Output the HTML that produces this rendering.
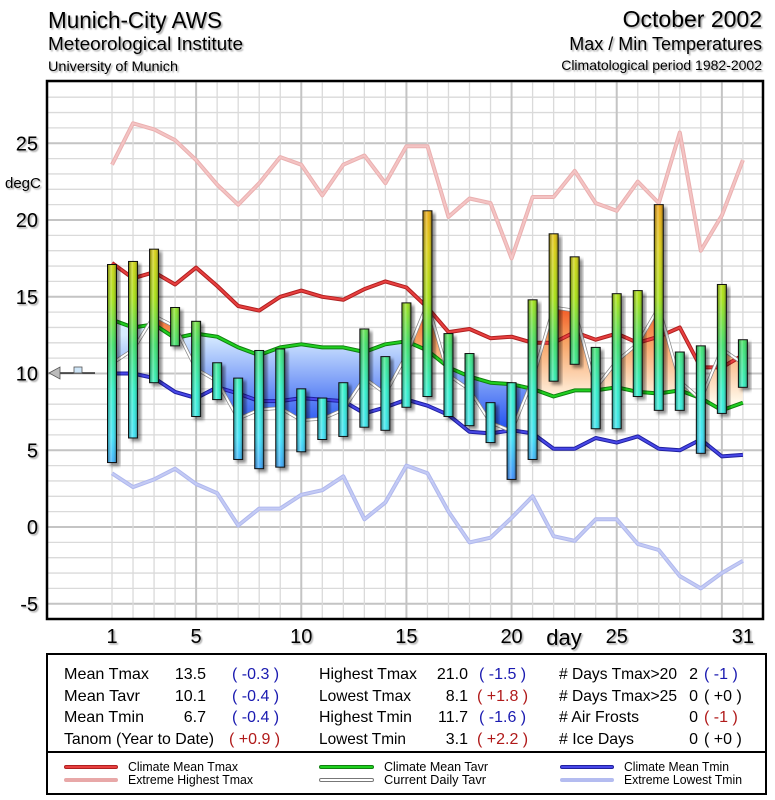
<!DOCTYPE html>
<html><head><meta charset="utf-8"><style>
html,body{margin:0;padding:0;background:#fff;}
svg{display:block;font-family:"Liberation Sans Narrow","Liberation Sans",sans-serif;}
</style></head><body>
<svg id="chart" width="775" height="800" viewBox="0 0 775 800" xmlns="http://www.w3.org/2000/svg">
<defs>
<filter id="sh" x="-50%" y="-10%" width="200%" height="130%"><feDropShadow dx="3" dy="3" stdDeviation="1.5" flood-color="#000" flood-opacity="0.45"/></filter>
<filter id="tsh" x="-10%" y="-10%" width="130%" height="140%"><feDropShadow dx="1.5" dy="1.5" stdDeviation="0.8" flood-color="#000" flood-opacity="0.35"/></filter>
<linearGradient id="barV" gradientUnits="userSpaceOnUse" x1="0" y1="200" x2="0" y2="490">
<stop offset="0" stop-color="#f09a00"/><stop offset="0.17" stop-color="#d8cc00"/><stop offset="0.34" stop-color="#a0e000"/><stop offset="0.5" stop-color="#30e060"/><stop offset="0.66" stop-color="#20f0c8"/><stop offset="0.82" stop-color="#30e0f8"/><stop offset="1" stop-color="#3070ff"/>
</linearGradient>
<linearGradient id="barH" x1="0" y1="0" x2="1" y2="0">
<stop offset="0" stop-color="#000" stop-opacity="0.35"/><stop offset="0.4" stop-color="#fff" stop-opacity="0.35"/><stop offset="0.6" stop-color="#fff" stop-opacity="0.1"/><stop offset="1" stop-color="#000" stop-opacity="0.45"/>
</linearGradient>
<linearGradient id="warmG" gradientUnits="userSpaceOnUse" x1="0" y1="300" x2="0" y2="400"><stop offset="0" stop-color="#f04a18"/><stop offset="0.4" stop-color="#f8a060"/><stop offset="1" stop-color="#fff6e6"/></linearGradient>
<linearGradient id="coldG" gradientUnits="userSpaceOnUse" x1="0" y1="335" x2="0" y2="430"><stop offset="0" stop-color="#d8ecff"/><stop offset="1" stop-color="#2050f0"/></linearGradient>
<clipPath id="plotClip"><rect x="48" y="82" width="715" height="536"/></clipPath>
<clipPath id="aboveGreen"><polygon id="cpAbove"/></clipPath>
<clipPath id="belowGreen"><polygon id="cpBelow"/></clipPath>
</defs>

<g filter="url(#tsh)">
<text x="48" y="28" font-size="23" textLength="174" lengthAdjust="spacingAndGlyphs">Munich-City AWS</text>
<text x="48" y="50" font-size="18" textLength="195" lengthAdjust="spacingAndGlyphs">Meteorological Institute</text>
<text x="48" y="71" font-size="14" textLength="130" lengthAdjust="spacingAndGlyphs">University of Munich</text>
<text x="762" y="27" font-size="23" text-anchor="end">October 2002</text>
<text x="762" y="50" font-size="18" text-anchor="end">Max / Min Temperatures</text>
<text x="762" y="70" font-size="14" text-anchor="end">Climatological period 1982-2002</text>
</g>

<rect x="48" y="82" width="715" height="536" fill="#fff"/>
<g id="grid"></g>
<g id="fills" clip-path="url(#plotClip)"></g>
<g id="lines" clip-path="url(#plotClip)"></g>
<g id="bars"></g>
<rect x="47" y="81" width="716" height="538" fill="none" stroke="#000" stroke-width="2.5"/>
<g id="axes" filter="url(#tsh)"></g>

<g>
<line x1="58" y1="373" x2="95" y2="373" stroke="#000" stroke-width="1.2"/>
<polygon points="49,373 60,367 60,379" fill="#bbb" stroke="#555" stroke-width="0.8"/>
<rect x="74" y="367" width="8" height="6" fill="#cfe6f8" stroke="#555" stroke-width="0.8"/>
</g>

<g font-size="16">
<rect x="47" y="654" width="719" height="140" fill="#fff" stroke="#000" stroke-width="2"/>
<line x1="47" y1="752" x2="766" y2="752" stroke="#000" stroke-width="2"/>
<g>
<text x="64" y="679" textLength="85" lengthAdjust="spacingAndGlyphs">Mean Tmax</text><text x="206" y="679" text-anchor="end">13.5</text><text x="232" y="679" fill="#1a1ab0">( -0.3 )</text>
<text x="64" y="701" textLength="76" lengthAdjust="spacingAndGlyphs">Mean Tavr</text><text x="206" y="701" text-anchor="end">10.1</text><text x="232" y="701" fill="#1a1ab0">( -0.4 )</text>
<text x="64" y="722" textLength="80" lengthAdjust="spacingAndGlyphs">Mean Tmin</text><text x="206" y="722" text-anchor="end">6.7</text><text x="232" y="722" fill="#1a1ab0">( -0.4 )</text>
<text x="64" y="744" textLength="150" lengthAdjust="spacingAndGlyphs">Tanom (Year to Date)</text><text x="229" y="744" fill="#b01a1a">( +0.9 )</text>
</g>
<g>
<text x="319" y="679" textLength="98" lengthAdjust="spacingAndGlyphs">Highest Tmax</text><text x="468" y="679" text-anchor="end">21.0</text><text x="479" y="679" fill="#1a1ab0">( -1.5 )</text>
<text x="319" y="701" textLength="92" lengthAdjust="spacingAndGlyphs">Lowest Tmax</text><text x="468" y="701" text-anchor="end">8.1</text><text x="477" y="701" fill="#b01a1a">( +1.8 )</text>
<text x="319" y="722" textLength="93" lengthAdjust="spacingAndGlyphs">Highest Tmin</text><text x="468" y="722" text-anchor="end">11.7</text><text x="479" y="722" fill="#1a1ab0">( -1.6 )</text>
<text x="319" y="744" textLength="87" lengthAdjust="spacingAndGlyphs">Lowest Tmin</text><text x="468" y="744" text-anchor="end">3.1</text><text x="477" y="744" fill="#b01a1a">( +2.2 )</text>
</g>
<g>
<text x="559" y="679" textLength="118" lengthAdjust="spacingAndGlyphs"># Days Tmax&gt;20</text><text x="698" y="679" text-anchor="end">2</text><text x="704" y="679" fill="#1a1ab0">( -1 )</text>
<text x="559" y="701" textLength="118" lengthAdjust="spacingAndGlyphs"># Days Tmax&gt;25</text><text x="698" y="701" text-anchor="end">0</text><text x="704" y="701">( +0 )</text>
<text x="559" y="722" textLength="80" lengthAdjust="spacingAndGlyphs"># Air Frosts</text><text x="698" y="722" text-anchor="end">0</text><text x="704" y="722" fill="#b01a1a">( -1 )</text>
<text x="559" y="744" textLength="75" lengthAdjust="spacingAndGlyphs"># Ice Days</text><text x="698" y="744" text-anchor="end">0</text><text x="704" y="744">( +0 )</text>
</g>
</g>

<g font-size="13">
<g><line x1="66" y1="767" x2="116" y2="767" stroke="#b02020" stroke-width="4" stroke-linecap="round"/><line x1="66" y1="767" x2="116" y2="767" stroke="#e84040" stroke-width="2" stroke-linecap="round"/><text x="128" y="771" textLength="110" lengthAdjust="spacingAndGlyphs">Climate Mean Tmax</text></g>
<g><line x1="66" y1="780" x2="116" y2="780" stroke="#e8a8a8" stroke-width="4" stroke-linecap="round"/><text x="128" y="784" textLength="125" lengthAdjust="spacingAndGlyphs">Extreme Highest Tmax</text></g>
<g><line x1="321" y1="767" x2="372" y2="767" stroke="#108010" stroke-width="4" stroke-linecap="round"/><line x1="321" y1="767" x2="372" y2="767" stroke="#20d020" stroke-width="2" stroke-linecap="round"/><text x="384" y="771" textLength="104" lengthAdjust="spacingAndGlyphs">Climate Mean Tavr</text></g>
<g><line x1="321" y1="780" x2="372" y2="780" stroke="#777" stroke-width="4" stroke-linecap="round"/><line x1="321" y1="780" x2="372" y2="780" stroke="#fff" stroke-width="2" stroke-linecap="round"/><text x="384" y="784" textLength="102" lengthAdjust="spacingAndGlyphs">Current Daily Tavr</text></g>
<g><line x1="562" y1="767" x2="612" y2="767" stroke="#2020a0" stroke-width="4" stroke-linecap="round"/><line x1="562" y1="767" x2="612" y2="767" stroke="#4848e8" stroke-width="2" stroke-linecap="round"/><text x="624" y="771" textLength="105" lengthAdjust="spacingAndGlyphs">Climate Mean Tmin</text></g>
<g><line x1="562" y1="780" x2="612" y2="780" stroke="#b4bcf0" stroke-width="4" stroke-linecap="round"/><text x="624" y="784" textLength="118" lengthAdjust="spacingAndGlyphs">Extreme Lowest Tmin</text></g>
</g>
</svg>
<script>
var days = [1,2,3,4,5,6,7,8,9,10,11,12,13,14,15,16,17,18,19,20,21,22,23,24,25,26,27,28,29,30,31];
var tmax = [17.1,17.3,18.1,14.3,13.4,10.7,9.7,11.5,11.6,9.0,8.4,9.4,12.9,11.1,14.6,20.6,12.6,11.3,8.1,9.4,14.8,19.1,17.6,11.7,15.2,15.4,21.0,11.4,11.8,15.8,12.2];
var tmin = [4.2,5.8,9.4,11.8,7.2,8.3,4.4,3.8,3.9,4.9,5.7,5.9,6.5,6.3,7.8,8.5,7.2,6.6,5.5,3.1,4.4,9.5,10.6,6.4,6.4,8.5,7.6,7.6,4.8,7.4,9.1];
var climTmax = [17.2,16.2,16.6,15.8,16.9,15.7,14.4,14.1,15.0,15.4,15.0,14.8,15.5,16.0,15.6,14.3,12.7,12.9,12.3,12.4,12.0,12.0,12.7,12.2,12.6,12.0,12.4,13.0,10.4,10.4,11.2];
var climTavr = [13.5,13.0,13.2,12.3,12.6,12.4,11.7,11.2,11.7,11.9,11.7,11.7,11.4,11.9,12.1,11.5,10.4,9.8,9.4,9.3,9.0,8.5,8.9,8.9,9.1,8.8,8.7,8.9,8.4,7.6,8.1];
var climTmin = [10.0,10.0,9.7,8.8,8.4,9.1,8.7,8.2,8.2,8.4,8.3,8.2,7.4,7.8,8.3,7.9,7.3,6.2,6.1,6.3,6.1,5.1,5.1,5.8,5.5,5.9,5.1,5.0,5.7,4.6,4.7];
var extHigh = [23.6,26.3,25.9,25.2,23.9,22.3,21.0,22.4,24.1,23.6,21.6,23.6,24.2,22.4,24.8,24.8,20.2,21.4,21.1,17.5,21.5,21.5,23.2,21.1,20.6,22.5,21.1,25.7,18.0,20.3,23.9];
var extLow = [3.5,2.6,3.1,3.8,2.8,2.2,0.1,1.2,1.2,2.1,2.4,3.3,0.5,1.6,4.0,3.5,1.0,-1.0,-0.7,0.6,2.0,-0.6,-0.9,0.5,0.5,-1.1,-1.5,-3.2,-4.0,-3.0,-2.2];
var yTicks = [25,20,15,10,5,0,-5];
var xTicks = [1,5,10,15,20,25,31];

var NS = "http://www.w3.org/2000/svg";
function X(d){ return 112 + (d-1)*21.03; }
function Y(t){ return 527 - t*15.35; }
function mk(tag, attrs, parent){ var e=document.createElementNS(NS,tag); for(var k in attrs) e.setAttribute(k, attrs[k]); parent.appendChild(e); return e; }
function pts(arr){ return arr.map(function(v,i){ return X(days[i]).toFixed(1)+","+Y(v).toFixed(1); }).join(" "); }

var grid = document.getElementById("grid");
for (var t=-6; t<=29; t++){
  var gl = mk("line",{x1:48,x2:763,y1:Y(t),y2:Y(t),stroke:(t%5===0?"#c4c4c4":"#dadada"),"stroke-width":(t%5===0?2:1.3)},grid);
  
  
}
for (var d=1; d<=31; d++){
  var vl = mk("line",{x1:X(d),x2:X(d),y1:82,y2:618,stroke:(d%5===0?"#c4c4c4":"#dadada"),"stroke-width":(d%5===0?2:1.3)},grid);
  
  
}

var tavr = tmax.map(function(v,i){ return (v+tmin[i])/2; });
var greenPts = pts(climTavr);
var x0 = X(days[0]), xN = X(days[days.length-1]);
document.getElementById("cpAbove").setAttribute("points", greenPts+" "+xN+",82 "+x0+",82");
document.getElementById("cpBelow").setAttribute("points", greenPts+" "+xN+",618 "+x0+",618");
var fills = document.getElementById("fills");
var warm = mk("polygon",{points:pts(tavr)+" "+xN+",618 "+x0+",618",fill:"url(#warmG)","clip-path":"url(#aboveGreen)"},fills);


var cold = mk("polygon",{points:pts(tavr)+" "+xN+",82 "+x0+",82",fill:"url(#coldG)","clip-path":"url(#belowGreen)"},fills);



var lines = document.getElementById("lines");
function series(arr, outer, inner, name, w){
  var g = mk("g",{},lines);
  
  
  mk("polyline",{points:pts(arr),fill:"none",stroke:outer,"stroke-width":w||4,"stroke-linejoin":"round"},g);
  if (inner) mk("polyline",{points:pts(arr),fill:"none",stroke:inner,"stroke-width":2,"stroke-linejoin":"round"},g);
}
series(extHigh,"#eab0b0","#f4c4c4","extreme-highest-tmax-line");
series(extLow,"#b0b8ee","#c4cbf4","extreme-lowest-tmin-line");
series(climTmax,"#b02020","#e84040","climate-mean-tmax-line");
series(climTmin,"#2020a0","#4848e8","climate-mean-tmin-line");
series(climTavr,"#108010","#20d020","climate-mean-tavr-line");
series(tavr,"#888","#fff","current-daily-tavr-line",3.5);

var bars = document.getElementById("bars");
for (var i=0;i<days.length;i++){
  var bx = X(days[i])-4.5, by = Y(tmax[i]), bh = Y(tmin[i])-Y(tmax[i]);
  var bg = mk("g",{filter:"url(#sh)"},bars);
  
  
  mk("rect",{x:bx,y:by,width:9,height:bh,fill:"url(#barV)"},bg);
  mk("rect",{x:bx,y:by,width:9,height:bh,fill:"url(#barH)",stroke:"#111","stroke-width":1},bg);
}

var axes = document.getElementById("axes");
yTicks.forEach(function(t){
  var tx = mk("text",{x:38,y:Y(t)+7,"font-size":20,"text-anchor":"end"},axes);
  tx.textContent = t;
  
  
});
var yt = mk("text",{x:5,y:188,"font-size":15},axes);
yt.textContent = "degC";


xTicks.forEach(function(d){
  var tx = mk("text",{x:X(d),y:643,"font-size":20,"text-anchor":"middle"},axes);
  tx.textContent = d;
  
  
});
var xt = mk("text",{x:564,y:645,"font-size":22,"text-anchor":"middle"},axes);
xt.textContent = "day";


</script>
</body></html>
